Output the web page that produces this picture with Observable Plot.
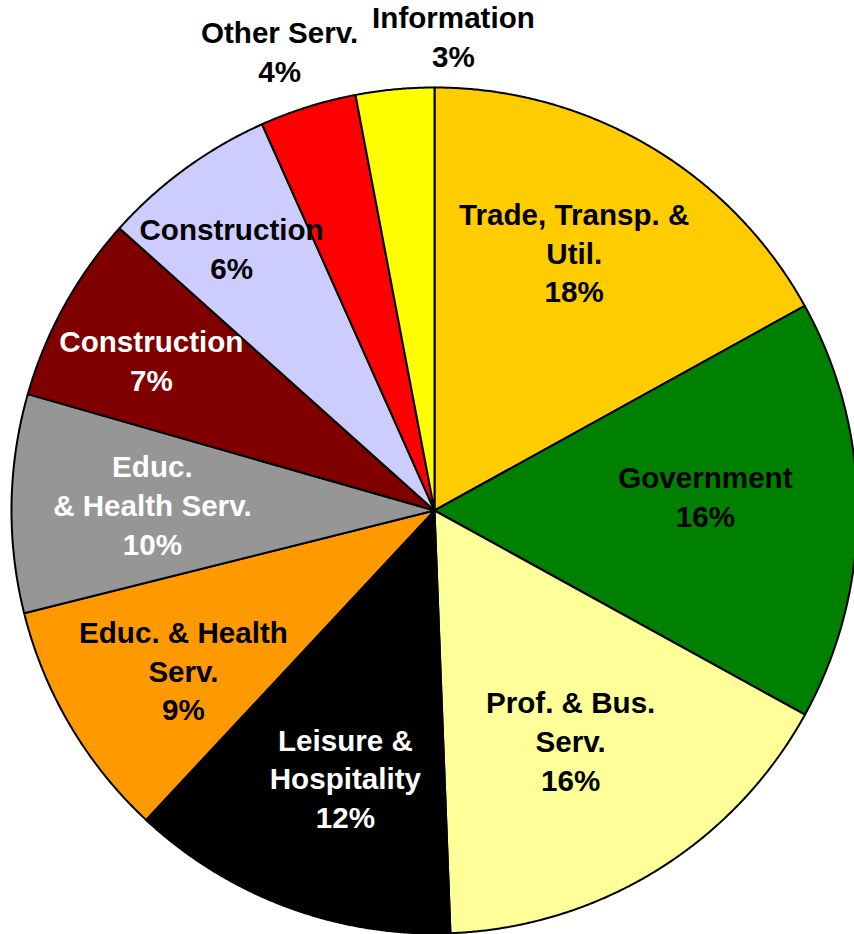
<!DOCTYPE html>
<html><head><meta charset="utf-8">
<script src="https://cdn.jsdelivr.net/npm/d3@7"></script>
<script src="https://cdn.jsdelivr.net/npm/@observablehq/plot@0.6"></script>
<style>html,body{margin:0;padding:0;background:#fff;overflow:hidden;}#chart svg{overflow:hidden;display:block;}</style>
</head><body><div id="chart"></div>
<script>
// ---- data ----
const sectors = ["Trade, Transp. &\nUtil.", "Government", "Prof. & Bus.\nServ.", "Leisure &\nHospitality", "Educ. & Health\nServ.", "Educ.\n& Health Serv.", "Construction", "Construction", "Other Serv.", "Information"];
const shares = [16.96, 16.05, 16.38, 12.54, 9.15, 8.34, 7.19, 6.69, 3.69, 2.99];
const percentLabels = ["18%", "16%", "16%", "12%", "9%", "10%", "7%", "6%", "4%", "3%"];

// ---- styles / layout ----
const colors = ["#FFCC00", "#008000", "#FFFF99", "#000000", "#FF9900", "#969696", "#800000", "#CCCCFF", "#FF0000", "#FFFF00"];
const textColors = ["black", "black", "black", "white", "black", "white", "white", "black", "black", "black"];
const labelAngle = [28.6, 87.4, 149.6, 198.3, 237.2, 270.8, 297.7, 322.1, 341.3, 2.3];
const labelRadius = [0.69, 0.641, 0.636, 0.671, 0.706, 0.667, 0.756, 0.781, 1.142, 1.118];

const W = 854, H = 934, cx = 434, cy = 510, R = 423;

const arcs = d3.pie().sort(null).value(d => d)(shares);
const pts = [];
arcs.forEach((a, i) => {
  pts.push({i, x: 0, y: 0});
  const n = Math.max(2, Math.ceil((a.endAngle - a.startAngle) / (Math.PI / 720)));
  for (let k = 0; k <= n; k++) {
    const t = a.startAngle + (a.endAngle - a.startAngle) * k / n;
    pts.push({i, x: Math.sin(t), y: Math.cos(t)});
  }
  pts.push({i, x: 0, y: 0});
});

const labels = sectors.map((s, i) => {
  const t = labelAngle[i] * Math.PI / 180;
  return {i, text: s + "\n" + percentLabels[i], x: labelRadius[i] * Math.sin(t), y: labelRadius[i] * Math.cos(t)};
});

const chart = Plot.plot({
  width: W, height: H, margin: 0,
  x: {domain: [-cx / R, (W - cx) / R], axis: null},
  y: {domain: [-(H - cy) / R, cy / R], axis: null},
  color: {type: "identity"},
  style: {background: "white", overflow: "hidden"},
  marks: [
    Plot.line(pts, {x: "x", y: "y", z: "i", fill: d => colors[d.i], stroke: "black", strokeWidth: 2, strokeLinejoin: "round", curve: "linear"}),
    Plot.text(labels, {x: "x", y: "y", dy: -3, text: "text", fill: d => textColors[d.i], fontSize: 29.6, fontWeight: "bold", lineHeight: 1.31, lineAnchor: "middle", textAnchor: "middle", fontFamily: "'Liberation Sans', Arial, sans-serif"})
  ]
});
document.getElementById("chart").appendChild(chart);
</script>
</body></html>
